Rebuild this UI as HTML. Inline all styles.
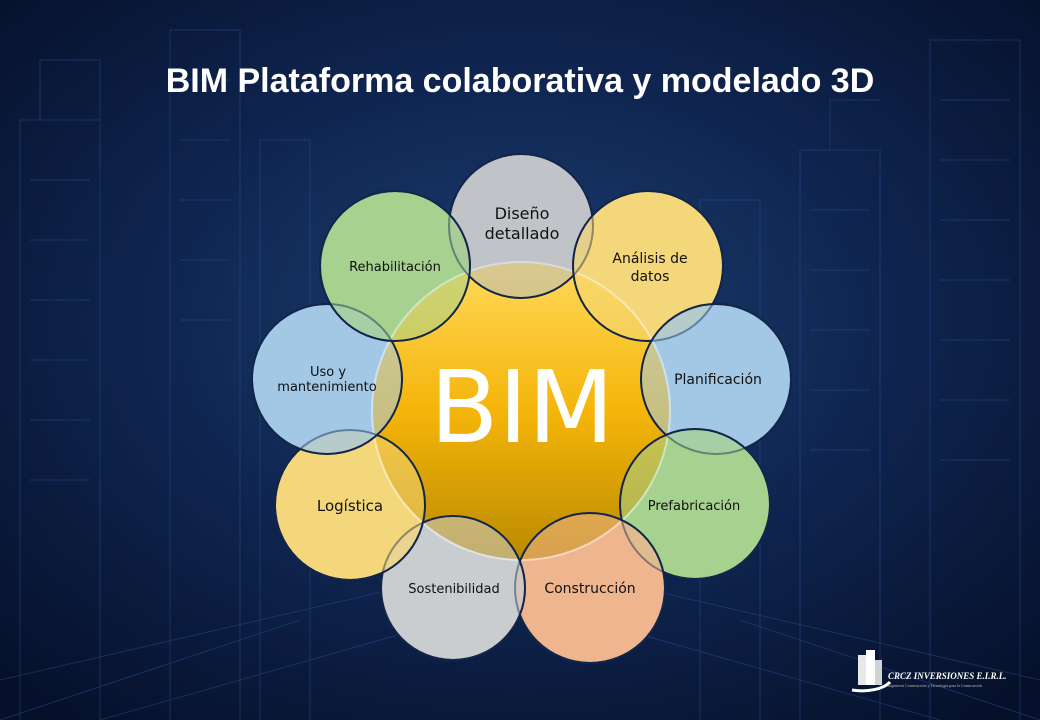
<!DOCTYPE html>
<html><head><meta charset="utf-8"><style>
html,body{margin:0;padding:0;width:1040px;height:720px;overflow:hidden;background:#07122b}
</style></head><body>
<svg width="1040" height="720" viewBox="0 0 1040 720" xmlns="http://www.w3.org/2000/svg">
<defs>
<radialGradient id="bg" cx="0.5" cy="0.45" r="0.7">
<stop offset="0" stop-color="#1d3f72"/><stop offset="0.5" stop-color="#0f2550"/><stop offset="1" stop-color="#06102a"/>
</radialGradient>
<linearGradient id="core" x1="0" y1="0" x2="0" y2="1">
<stop offset="0" stop-color="#ffd95a"/><stop offset="0.5" stop-color="#f5b50a"/><stop offset="1" stop-color="#b98a00"/>
</linearGradient>
</defs>
<rect width="1040" height="720" fill="url(#bg)"/>
<g stroke="#2b5aa0" stroke-width="1" opacity="0.4" fill="none">
<path d="M20 720V120h80v600M40 120V60h60v60M170 720V30h70v690M180 80h50M180 140h50M180 200h50M180 260h50M180 320h50M800 720V150h80v570M830 150V100h50M930 720V40h90v680M940 100h70M940 160h70M940 220h70M940 280h70M940 340h70M940 400h70M940 460h70M30 180h60M30 240h60M30 300h60M30 360h60M30 420h60M30 480h60M810 210h60M810 270h60M810 330h60M810 390h60M810 450h60M700 720V200h60v520M260 720V140h50v580"/>
<path d="M0 680L520 560L1040 680M0 720L300 620M1040 720L740 620M100 720L520 600L940 720"/>
</g>
<text x="520" y="92" text-anchor="middle" font-family="Liberation Sans, sans-serif" font-weight="bold" font-size="34" fill="#fff">BIM Plataforma colaborativa y modelado 3D</text>
<g stroke="#12254a" stroke-width="2">
<circle cx="521" cy="226" r="72" fill="#c9cdd0"/>
<circle cx="648" cy="266" r="75" fill="#f4d77a"/>
<circle cx="716" cy="379" r="75" fill="#a3c8e6"/>
<circle cx="695" cy="504" r="75" fill="#a6d18f"/>
<circle cx="590" cy="588" r="75" fill="#efb58e"/>
<circle cx="453" cy="588" r="72" fill="#c9cdd0"/>
<circle cx="350" cy="505" r="75" fill="#f4d77a"/>
<circle cx="327" cy="379" r="75" fill="#a3c8e6"/>
<circle cx="395" cy="266" r="75" fill="#a6d18f"/>
</g>
<circle cx="521" cy="411" r="149" fill="url(#core)" stroke="#fff" stroke-width="2"/>
<g stroke="#12254a" stroke-width="2" fill-opacity="0.55">
<circle cx="521" cy="226" r="72" fill="#b8bcc0"/>
<circle cx="648" cy="266" r="75" fill="#f4d77a"/>
<circle cx="716" cy="379" r="75" fill="#a3c8e6"/>
<circle cx="695" cy="504" r="75" fill="#a6d18f"/>
<circle cx="590" cy="588" r="75" fill="#efb58e"/>
<circle cx="453" cy="588" r="72" fill="#c9cdd0"/>
<circle cx="350" cy="505" r="75" fill="#f4d77a"/>
<circle cx="327" cy="379" r="75" fill="#a3c8e6"/>
<circle cx="395" cy="266" r="75" fill="#a6d18f"/>
</g>
<text x="522" y="442" text-anchor="middle" font-family="DejaVu Sans, sans-serif" font-size="100" fill="#fff">BIM</text>
<g font-family="DejaVu Sans, sans-serif" fill="#111" text-anchor="middle">
<text x="522" y="219" font-size="16">Diseño</text>
<text x="522" y="239" font-size="16">detallado</text>
<text x="650" y="263" font-size="14">Análisis de</text>
<text x="650" y="281" font-size="14">datos</text>
<text x="718" y="384" font-size="14">Planificación</text>
<text x="694" y="510" font-size="13">Prefabricación</text>
<text x="590" y="593" font-size="14">Construcción</text>
<text x="454" y="593" font-size="13">Sostenibilidad</text>
<text x="350" y="511" font-size="15">Logística</text>
<text x="328" y="376" font-size="13">Uso y</text>
<text x="327" y="391" font-size="13">mantenimiento</text>
<text x="395" y="271" font-size="13">Rehabilitación</text>
</g>
<g>
<path d="M852 690 A30 14 0 0 0 890 682" stroke="#fff" stroke-width="3" fill="none"/>
<rect x="858" y="655" width="8" height="30" fill="#e8e8e8"/>
<rect x="866" y="650" width="9" height="35" fill="#fff"/>
<rect x="875" y="660" width="7" height="25" fill="#cfd3d6"/>
<text x="888" y="679" font-family="Liberation Serif, serif" font-style="italic" font-weight="bold" font-size="9" fill="#fff">CRCZ INVERSIONES E.I.R.L.</text>
<text x="888" y="687" font-family="Liberation Serif, serif" font-size="4" fill="#bbb">Ingeniería Construcción y Tecnología para la Construcción</text>
</g>
</svg>
</body></html>
